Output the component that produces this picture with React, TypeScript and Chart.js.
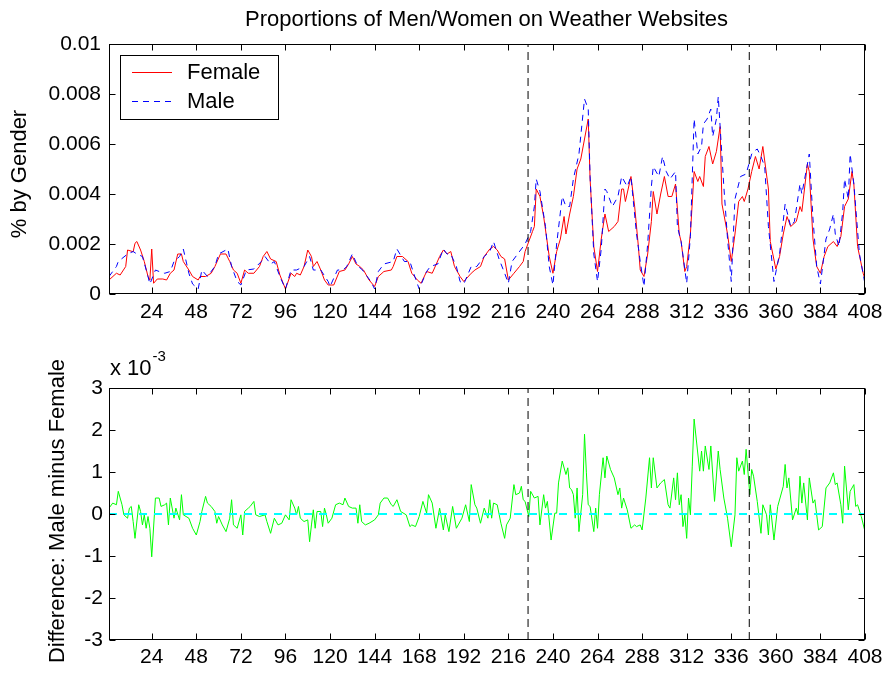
import React, { useEffect, useRef } from 'react';
import { Chart, registerables } from 'chart.js';

Chart.register(...registerables);

const FONT = '"Liberation Sans", Arial, Helvetica, sans-serif';

// ---------- data (hour, value) ----------
const femaleReadings: [number, number][] = [
  [1,0.00056],[5,0.00083],[7,0.00076],[10,0.0011],[11,0.00176],[14,0.00169],[15,0.00203],[16,0.0021],[18,0.00176],[20,0.0013],
  [22,0.0007],[23,0.00056],[24,0.0018],[25,0.00043],[27,0.0006],[30,0.0006],[32,0.00056],[34,0.00083],[36,0.00096],[38,0.0016],
  [40,0.0016],[41,0.0013],[44,0.00096],[46,0.0007],[49,0.00056],[50,0.0007],[53,0.0007],[56,0.00083],[58,0.0011],[61,0.0016],
  [64,0.0016],[66,0.0013],[68,0.00096],[70,0.00083],[72,0.00043],[74,0.00096],[76,0.00083],[79,0.00083],[82,0.0011],[84,0.0015],
  [86,0.0017],[88,0.0014],[91,0.0013],[93,0.00076],[96,0.0002],[99,0.00083],[101,0.0007],[102,0.00083],[104,0.00076],[106,0.0011],
  [108,0.00176],[110,0.0015],[111,0.0011],[113,0.0013],[115,0.00096],[117,0.00056],[119,0.00036],[122,0.00036],[125,0.0009],[128,0.00096],
  [130,0.0012],[132,0.0015],[134,0.0012],[136,0.0011],[138,0.00096],[141,0.00056],[144,0.0003],[146,0.0007],[149,0.0009],[153,0.00096],
  [154,0.0011],[156,0.0015],[159,0.0015],[162,0.0013],[164,0.00083],[167,0.00056],[169,0.00043],[172,0.0009],[175,0.00083],[179,0.0015],
  [181,0.00176],[183,0.0016],[185,0.0017],[187,0.0011],[190,0.0007],[192,0.0005],[196,0.00083],[198,0.00096],[201,0.0011],[203,0.0015],
  [206,0.0018],[208,0.0019],[210,0.00176],[212,0.0015],[214,0.0014],[216,0.00056],[219,0.00083],[222,0.0011],[224,0.0013],[225,0.0017],
  [227,0.0021],[229,0.0025],[230,0.0027],[231,0.0042],[233,0.0039],[235,0.0031],[238,0.0015],[240,0.00083],[242,0.0017],[244,0.0022],
  [246,0.0031],[247,0.0024],[249,0.0032],[251,0.0039],[253,0.005],[255,0.0054],[257,0.0062],[259,0.007],[260,0.0046],[262,0.0019],
  [264,0.0009],[266,0.0022],[268,0.0032],[270,0.0025],[273,0.0027],[275,0.0029],[277,0.0042],[278,0.0042],[279,0.0037],[282,0.0047],
  [284,0.0035],[286,0.0019],[287,0.00096],[289,0.0007],[291,0.0016],[293,0.0029],[294,0.0041],[296,0.0032],[298,0.004],[300,0.0047],
  [302,0.0039],[304,0.0039],[306,0.0044],[308,0.0024],[309,0.0021],[311,0.0009],[312,0.0011],[314,0.0024],[316,0.0049],[318,0.0045],
  [319,0.0047],[321,0.0043],[322,0.0055],[324,0.0059],[326,0.0052],[328,0.0057],[330,0.0067],[331,0.0036],[334,0.0024],[336,0.0013],
  [338,0.0024],[340,0.0037],[342,0.0039],[343,0.0037],[345,0.0042],[347,0.0049],[349,0.0055],[351,0.005],[353,0.0059],[356,0.0042],
  [357,0.0021],[360,0.001],[362,0.0015],[364,0.0024],[366,0.0031],[368,0.0027],[371,0.0029],[373,0.0035],[374,0.0033],[377,0.0052],
  [378,0.0049],[380,0.0022],[382,0.0011],[384,0.00083],[386,0.0015],[388,0.0019],[391,0.0021],[393,0.0019],[395,0.0023],[397,0.0035],
  [399,0.0038],[401,0.0049],[402,0.0044],[404,0.0019],[407,0.00083],[408,0.0006],
];

const maleReadings: [number, number][] = [
  [1,0.0007],[5,0.0011],[6,0.0013],[11,0.0016],[14,0.0017],[16,0.0016],[19,0.0015],[22,0.0007],[23,0.0004],[26,0.00096],
  [28,0.0009],[31,0.00083],[34,0.0009],[36,0.0013],[39,0.0015],[41,0.0018],[44,0.00083],[46,0.0004],[49,0.0002],[51,0.00096],
  [54,0.0007],[58,0.0011],[60,0.0016],[65,0.0018],[67,0.0011],[70,0.0005],[72,0.00036],[75,0.00096],[79,0.001],[83,0.0013],
  [85,0.0015],[88,0.0012],[90,0.0013],[93,0.0007],[96,0.0002],[99,0.00096],[102,0.00096],[106,0.0011],[109,0.0015],[111,0.00096],
  [115,0.00096],[119,0.0005],[120,0.0003],[124,0.00096],[127,0.00096],[129,0.0011],[132,0.0016],[135,0.0011],[137,0.001],[142,0.0005],
  [144,0.0002],[146,0.0009],[149,0.0012],[154,0.0013],[156,0.0018],[160,0.0013],[163,0.0013],[165,0.00083],[168,0.0002],[172,0.0009],
  [174,0.0011],[178,0.0012],[181,0.0018],[183,0.0016],[185,0.0016],[188,0.0011],[190,0.0005],[192,0.0004],[196,0.0011],[199,0.0011],
  [203,0.0015],[206,0.0017],[208,0.0021],[211,0.0014],[214,0.00083],[216,0.00043],[218,0.0013],[221,0.0016],[224,0.0019],[225,0.002],
  [228,0.0025],[230,0.0035],[231,0.0046],[233,0.0041],[236,0.0027],[238,0.0011],[240,0.00036],[242,0.002],[245,0.0039],[247,0.0035],
  [249,0.0035],[251,0.0046],[254,0.0056],[257,0.0078],[259,0.0074],[260,0.0047],[262,0.0016],[264,0.0005],[266,0.0018],[268,0.0042],
  [269,0.0041],[272,0.0035],[275,0.0039],[277,0.0047],[280,0.0043],[282,0.0047],[285,0.0024],[287,0.0013],[289,0.0003],[291,0.002],
  [293,0.0043],[294,0.0051],[297,0.0047],[299,0.0055],[301,0.0049],[303,0.0046],[306,0.0049],[307,0.0027],[309,0.0021],[312,0.00043],
  [314,0.0023],[316,0.007],[318,0.0056],[320,0.0059],[321,0.0068],[323,0.007],[325,0.0074],[326,0.0063],[328,0.007],[329,0.0079],
  [330,0.0067],[332,0.0043],[334,0.0022],[336,0.0005],[338,0.0038],[341,0.0047],[344,0.0048],[347,0.0056],[348,0.0057],[350,0.0058],
  [352,0.0055],[354,0.0051],[356,0.0027],[359,0.0005],[362,0.0016],[365,0.0036],[368,0.0027],[370,0.0029],[373,0.0044],[374,0.004],
  [378,0.0056],[380,0.003],[382,0.0011],[384,0.0004],[387,0.0022],[389,0.0026],[391,0.0032],[392,0.0024],[394,0.0019],[396,0.0033],
  [397,0.0046],[399,0.0038],[400,0.0056],[402,0.0044],[405,0.0016],[408,0.0004],
];

// difference, in units of 1e-3
const differenceReadings: [number, number][] = [
  [1,0.14],[3,0.26],[5,0.22],[6,0.54],[8,0.22],[9,-0.02],[11,-0.1],[12,0.14],[13,0.18],[14,-0.18],
  [15,-0.58],[17,0.22],[18,0.06],[19,-0.26],[20,-0.02],[21,-0.34],[22,-0.06],[23,-0.34],[24,-1.02],[26,0.38],
  [28,0.38],[29,0.18],[31,0.22],[32,0.26],[33,-0.26],[34,0.38],[36,-0.1],[37,0.14],[39,-0.14],[40,0.46],
  [41,-0.02],[44,-0.1],[46,-0.34],[48,-0.5],[50,-0.18],[51,0.06],[53,0.42],[54,0.26],[56,0.18],[58,0.06],
  [59,-0.22],[60,-0.06],[62,-0.26],[64,-0.42],[66,-0.1],[67,0.34],[68,-0.26],[70,-0.34],[72,-0.02],[73,-0.5],
  [74,0.06],[76,0.14],[77,0.18],[79,0.3],[80,-0.02],[82,-0.06],[85,-0.02],[86,-0.18],[88,-0.46],[90,-0.1],
  [92,-0.26],[94,-0.22],[96,-0.02],[98,-0.14],[99,0.34],[101,0.14],[102,-0.02],[103,0.18],[104,-0.1],[106,-0.18],
  [108,-0.14],[109,-0.66],[110,-0.26],[111,0.1],[112,-0.34],[113,0.06],[115,0.06],[116,-0.3],[117,0.14],[118,-0.02],
  [119,-0.22],[121,-0.1],[123,0.22],[125,0.26],[127,0.22],[128,0.38],[130,0.18],[132,0.14],[134,0.14],[135,-0.22],
  [136,0.22],[137,-0.18],[139,-0.26],[141,-0.22],[144,-0.14],[146,-0.02],[147,0.26],[149,0.38],[151,0.38],[153,0.22],
  [154,0.18],[156,0.34],[158,0.06],[161,-0.02],[163,-0.3],[164,-0.26],[166,-0.3],[168,-0.06],[170,0.3],[172,0.02],
  [173,0.46],[175,0.26],[177,-0.34],[179,0.14],[181,-0.38],[182,-0.02],[184,-0.42],[186,0.18],[188,-0.34],[189,-0.26],
  [191,-0.1],[193,0.22],[195,-0.18],[196,0.7],[198,0.22],[199,0.14],[201,-0.22],[203,0.14],[205,-0.1],[206,0.34],
  [207,-0.1],[208,0.26],[210,0.22],[212,-0.22],[214,-0.58],[215,-0.26],[217,-0.1],[219,0.7],[220,0.46],[222,0.5],
  [223,0.66],[224,0.34],[225,0.3],[227,-0.06],[228,0.54],[230,0.38],[232,0.42],[233,-0.26],[235,0.46],[236,0.14],
  [237,0.3],[239,-0.62],[241,0.02],[242,0.02],[243,0.74],[245,1.26],[247,0.94],[248,1.1],[249,0.62],[250,0.58],
  [251,0.46],[252,-0.1],[253,0.62],[254,-0.42],[256,0.46],[257,1.9],[258,0.98],[259,0.22],[260,0.18],[262,-0.42],
  [263,0.14],[264,-0.34],[265,0.46],[267,1.34],[268,0.86],[269,1.38],[271,1.06],[273,0.86],[275,0.46],[276,0.62],
  [277,0.14],[278,0.38],[280,0.1],[282,-0.34],[284,-0.26],[285,-0.3],[287,-0.26],[288,-0.38],[290,0.38],[292,1.34],
  [293,0.62],[294,1.34],[296,0.62],[298,0.74],[300,0.82],[302,0.22],[303,0.14],[305,0.86],[306,0.34],[307,0.98],
  [308,0.22],[309,0.46],[310,-0.3],[311,-0.02],[312,-0.58],[313,0.38],[314,-0.02],[315,1.14],[316,2.26],[319,1.02],
  [320,1.5],[321,1.02],[322,1.62],[324,1.06],[325,1.62],[327,0.3],[329,1.5],[330,1.06],[332,0.38],[334,-0.1],
  [336,-0.78],[338,-0.02],[339,1.34],[340,1.02],[342,1.26],[343,0.94],[344,1.54],[346,0.46],[347,1.06],[348,0.9],
  [350,0.3],[352,-0.46],[353,0.22],[355,-0.02],[356,-0.5],[357,0.22],[359,-0.62],[361,0.18],[364,0.66],[365,1.18],
  [366,0.62],[367,0.86],[369,-0.14],[371,0.14],[372,-0.02],[373,0.9],[374,0.26],[375,0.74],[377,-0.14],[378,0.86],
  [380,0.26],[381,0.34],[383,-0.38],[385,-0.3],[387,0.62],[389,0.74],[391,0.98],[392,0.7],[393,0.74],[395,0.22],
  [396,-0.22],[397,1.14],[399,0.1],[400,0.54],[402,0.7],[403,0.18],[404,0.22],[406,-0.06],[408,-0.42],
];

const eventHours = [226.6, 345.7];
const hourMin = 1;
const hourMax = 408;
const zeroLevel = 0;

const xTicks = [24, 48, 72, 96, 120, 144, 168, 192, 216, 240, 264, 288, 312, 336, 360, 384, 408];
const topYTicks = [0, 0.002, 0.004, 0.006, 0.008, 0.01];
const topYTickLabels = ['0', '0.002', '0.004', '0.006', '0.008', '0.01'];
const bottomYTicks = [-3, -2, -1, 0, 1, 2, 3];
const bottomYTickLabels = ['-3', '-2', '-1', '0', '1', '2', '3'];

// ---------- plugin: MATLAB-like box, inward ticks, texts, legend ----------
const matlabPlugin = {
  id: 'matlab',
  afterDraw(chart: any, _args: any, opts: any) {
    const { ctx, chartArea: a, scales } = chart;
    ctx.save();
    ctx.strokeStyle = '#000';
    ctx.lineWidth = 1;
    ctx.setLineDash([]);
    const L = Math.round(a.left) + 0.5;
    const R = Math.round(a.right) - 0.5;
    const T = Math.round(a.top) + 0.5;
    const B = Math.round(a.bottom) - 0.5;
    ctx.strokeRect(L, T, R - L, B - T);
    const tl = 6;
    ctx.beginPath();
    scales.x.ticks.forEach((t: any) => {
      const px = Math.round(scales.x.getPixelForValue(t.value)) + 0.5;
      ctx.moveTo(px, B); ctx.lineTo(px, B - tl);
      ctx.moveTo(px, T); ctx.lineTo(px, T + tl);
    });
    scales.y.ticks.forEach((t: any) => {
      const py = Math.round(scales.y.getPixelForValue(t.value)) + 0.5;
      ctx.moveTo(L, py); ctx.lineTo(L + tl, py);
      ctx.moveTo(R, py); ctx.lineTo(R - tl, py);
    });
    ctx.stroke();

    ctx.fillStyle = '#000';
    if (opts.title) {
      ctx.font = `22px ${FONT}`;
      ctx.textAlign = 'center';
      ctx.textBaseline = 'alphabetic';
      ctx.fillText(opts.title.text, opts.title.x, opts.title.y);
    }
    if (opts.yLabel) {
      ctx.save();
      ctx.font = `22px ${FONT}`;
      ctx.textAlign = 'center';
      ctx.textBaseline = 'alphabetic';
      ctx.translate(opts.yLabel.x, opts.yLabel.y);
      ctx.rotate(-Math.PI / 2);
      ctx.fillText(opts.yLabel.text, 0, 0);
      ctx.restore();
    }
    if (opts.exponent) {
      const e = opts.exponent;
      ctx.font = `22px ${FONT}`;
      ctx.textAlign = 'left';
      ctx.textBaseline = 'alphabetic';
      ctx.fillText(e.base, e.x, e.y);
      const w = ctx.measureText(e.base).width;
      ctx.font = `15px ${FONT}`;
      ctx.fillText(e.power, e.x + w + 1, e.y - 14);
    }
    if (opts.legend) {
      const lg = opts.legend;
      ctx.fillStyle = '#fff';
      ctx.fillRect(lg.x, lg.y, lg.w, lg.h);
      ctx.strokeStyle = '#000';
      ctx.lineWidth = 1;
      ctx.setLineDash([]);
      ctx.strokeRect(lg.x + 0.5, lg.y + 0.5, lg.w, lg.h);
      lg.items.forEach((item: any) => {
        const ds = chart.data.datasets.find((d: any) => d.label === item.label);
        ctx.strokeStyle = ds.borderColor;
        ctx.lineWidth = ds.borderWidth;
        ctx.setLineDash(ds.borderDash || []);
        ctx.beginPath();
        ctx.moveTo(lg.x + 12, item.y + 0.5);
        ctx.lineTo(lg.x + 52, item.y + 0.5);
        ctx.stroke();
        ctx.setLineDash([]);
        ctx.fillStyle = '#000';
        ctx.font = `22px ${FONT}`;
        ctx.textAlign = 'left';
        ctx.textBaseline = 'alphabetic';
        ctx.fillText(item.label, lg.x + 67, item.y + 7);
      });
    }
    ctx.restore();
  },
};

const toPoints = (rows: [number, number][]) => rows.map(([x, y]) => ({ x, y }));

function baseScales(yMin: number, yMax: number, yTicks: number[], yLabels: string[], xHeight: number, xPad: number, yPad: number) {
  return {
    x: {
      type: 'linear',
      min: hourMin,
      max: hourMax,
      grid: { display: false, drawTicks: false },
      border: { display: false },
      ticks: {
        color: '#000',
        font: { family: FONT, size: 21 },
        padding: xPad,
        maxRotation: 0,
        autoSkip: false,
        callback: (v: any) => String(v),
      },
      afterBuildTicks: (s: any) => { s.ticks = xTicks.map((v) => ({ value: v })); },
      afterFit: (s: any) => { s.height = xHeight; },
    },
    y: {
      type: 'linear',
      min: yMin,
      max: yMax,
      grid: { display: false, drawTicks: false },
      border: { display: false },
      ticks: {
        color: '#000',
        font: { family: FONT, size: 21 },
        padding: yPad,
        autoSkip: false,
        callback: (_v: any, i: number) => yLabels[i],
      },
      afterBuildTicks: (s: any) => { s.ticks = yTicks.map((v) => ({ value: v })); },
      afterFit: (s: any) => { s.width = 109; },
    },
  };
}

function eventLines(yMin: number, yMax: number) {
  return eventHours.map((h) => ({
    label: 'event',
    data: [{ x: h, y: yMin }, { x: h, y: yMax }],
    borderColor: '#000',
    borderWidth: 1,
    borderDash: [8, 5],
    pointRadius: 0,
    fill: false,
    order: 0,
  }));
}

export default function App() {
  const topRef = useRef<HTMLCanvasElement>(null);
  const botRef = useRef<HTMLCanvasElement>(null);

  useEffect(() => {
    const top = new Chart(topRef.current as HTMLCanvasElement, {
      type: 'line',
      data: {
        datasets: [
          {
            label: 'Male',
            data: toPoints(maleReadings),
            borderColor: '#0000ff',
            borderWidth: 1,
            borderDash: [6, 5],
            pointRadius: 0,
            fill: false,
            order: 1,
          },
          {
            label: 'Female',
            data: toPoints(femaleReadings),
            borderColor: '#ff0000',
            borderWidth: 1,
            pointRadius: 0,
            fill: false,
            order: 2,
          },
          ...eventLines(topYTicks[0], topYTicks[topYTicks.length - 1]),
        ] as any,
      },
      options: {
        animation: false,
        responsive: false,
        devicePixelRatio: 1,
        layout: { padding: { left: 0, right: 25, top: 44, bottom: 0 } },
        plugins: {
          legend: { display: false },
          tooltip: { enabled: false },
          matlab: {
            title: { text: 'Proportions of Men/Women on Weather Websites', x: 486.5, y: 26 },
            yLabel: { text: '% by Gender', x: 26, y: 174 },
            legend: {
              x: 120, y: 55, w: 158, h: 64,
              items: [{ label: 'Female', y: 72 }, { label: 'Male', y: 101 }],
            },
          },
        } as any,
        scales: baseScales(0, 0.01, topYTicks, topYTickLabels, 42, 6, 8) as any,
      },
      plugins: [matlabPlugin],
    });

    const bottom = new Chart(botRef.current as HTMLCanvasElement, {
      type: 'line',
      data: {
        datasets: [
          {
            label: 'Zero',
            data: [{ x: hourMin, y: zeroLevel }, { x: hourMax, y: zeroLevel }],
            borderColor: '#00ffff',
            borderWidth: 2,
            borderDash: [8, 7],
            pointRadius: 0,
            fill: false,
            order: 1,
          },
          {
            label: 'Difference',
            data: toPoints(differenceReadings),
            borderColor: '#00ff00',
            borderWidth: 1,
            pointRadius: 0,
            fill: false,
            order: 2,
          },
          ...eventLines(bottomYTicks[0], bottomYTicks[bottomYTicks.length - 1]),
        ] as any,
      },
      options: {
        animation: false,
        responsive: false,
        devicePixelRatio: 1,
        layout: { padding: { left: 0, right: 25, top: 52, bottom: 0 } },
        plugins: {
          legend: { display: false },
          tooltip: { enabled: false },
          matlab: {
            yLabel: { text: 'Difference: Male minus Female', x: 64, y: 175 },
            exponent: { base: 'x 10', power: '-3', x: 110, y: 39 },
          },
        } as any,
        scales: baseScales(-3, 3, bottomYTicks, bottomYTickLabels, 33, 5, 6) as any,
      },
      plugins: [matlabPlugin],
    });

    return () => {
      top.destroy();
      bottom.destroy();
    };
  }, []);

  return (
    <div style={{ position: 'absolute', left: 0, top: 0, width: 890, height: 673, background: '#fff' }}>
      <canvas ref={topRef} width={890} height={336} style={{ position: 'absolute', left: 0, top: 0, width: 890, height: 336 }} />
      <canvas ref={botRef} width={890} height={337} style={{ position: 'absolute', left: 0, top: 336, width: 890, height: 337 }} />
    </div>
  );
}
